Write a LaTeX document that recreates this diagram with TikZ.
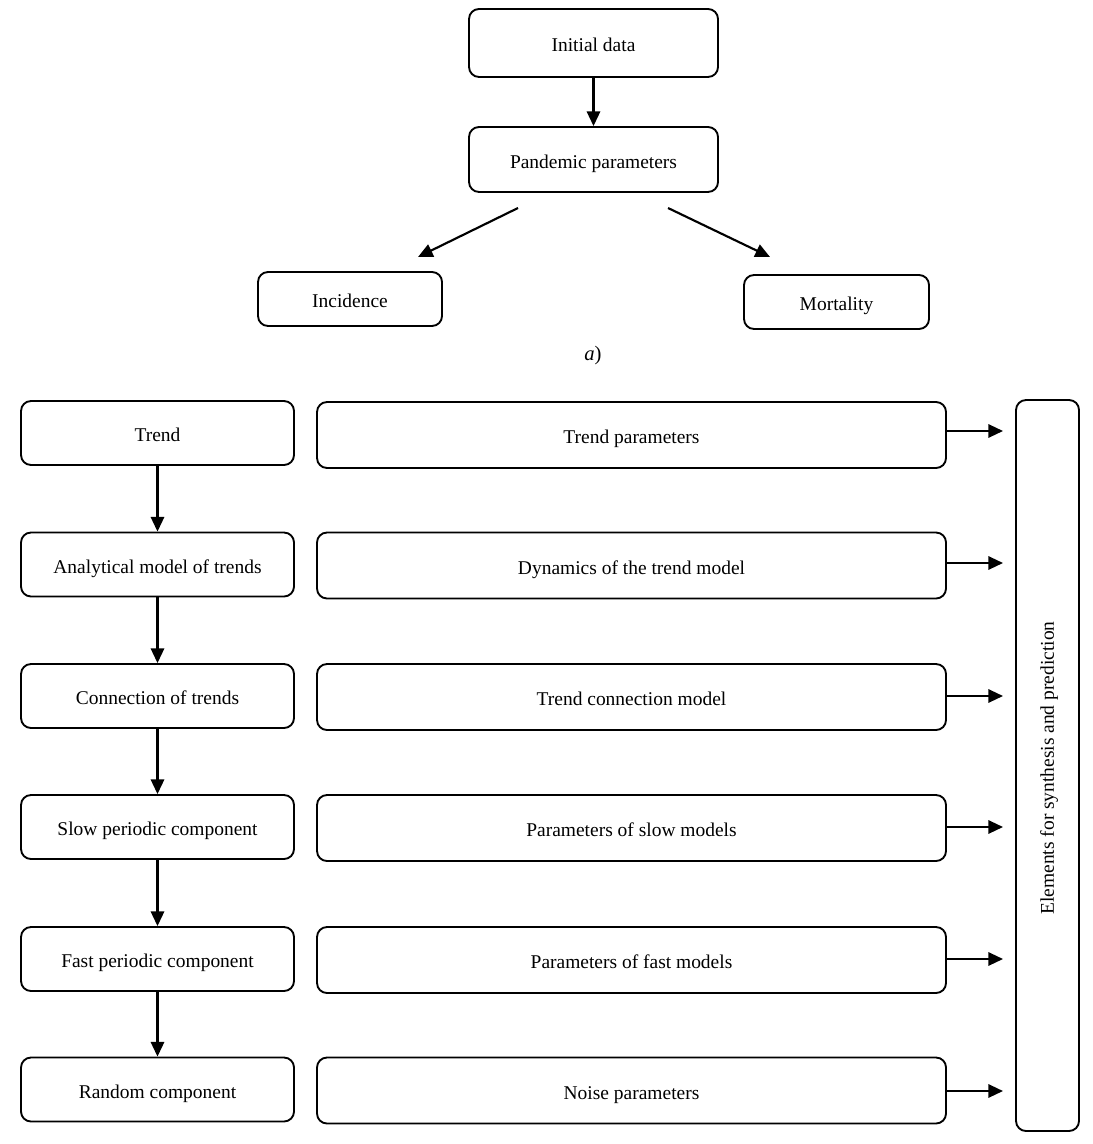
\documentclass[tikz,border=0pt]{standalone}
\usepackage{fontspec}
\setmainfont{Liberation Serif}
\usetikzlibrary{arrows.meta}
\begin{document}
\begin{tikzpicture}[x=0.75pt,y=-0.75pt,
  box/.style={draw,line width=1.4pt,rounded corners=7.5pt,inner sep=0pt,
    font=\fontsize{14.6}{17}\selectfont,align=center,text height=14pt,text depth=1pt},
  lbox/.style={box,minimum width=204.75pt,minimum height=48pt},
  mbox/.style={box,minimum width=471.75pt,minimum height=49.5pt},
  arr/.style={line width=1.6pt,-{Triangle[length=11pt,width=10pt]}}]
\useasboundingbox (0,0) rectangle (1092,1144);
% part a
\node[box,minimum width=186.75pt,minimum height=51pt] (init) at (593.5,43) {Initial data};
\node[box,minimum width=186.75pt,minimum height=48.75pt] (pand) at (593.5,159.5) {Pandemic parameters};
\node[box,minimum width=138pt,minimum height=40.5pt] (inc) at (350,299) {Incidence};
\node[box,minimum width=138.75pt,minimum height=40.5pt] (mort) at (836.5,302) {Mortality};
\draw[arr] (init) -- (pand);
\coordinate (ls) at (518,208);
\coordinate (le) at (418,257);
\coordinate (rs) at (668,208);
\coordinate (re) at (770,257);
\draw[arr] (ls) -- (le);
\draw[arr] (rs) -- (re);
\node[font=\fontsize{15.5}{18}\selectfont] (lab) at (593,356) {\textit{a})};
% part b
\node[lbox] (l1) at (157.5,433) {Trend};
\node[lbox] (l2) at (157.5,564.5) {Analytical model of trends};
\node[lbox] (l3) at (157.5,696) {Connection of trends};
\node[lbox] (l4) at (157.5,827) {Slow periodic component};
\node[lbox] (l5) at (157.5,959) {Fast periodic component};
\node[lbox] (l6) at (157.5,1089.5) {Random component};
\node[mbox] (m1) at (631.5,435) {Trend parameters};
\node[mbox] (m2) at (631.5,565.5) {Dynamics of the trend model};
\node[mbox] (m3) at (631.5,697) {Trend connection model};
\node[mbox] (m4) at (631.5,828) {Parameters of slow models};
\node[mbox] (m5) at (631.5,960) {Parameters of fast models};
\node[mbox] (m6) at (631.5,1090.5) {Noise parameters};
\node[box,minimum width=47.25pt,minimum height=548.25pt] (R) at (1047.5,765.5) {};
\node[rotate=90,font=\fontsize{14.6}{17}\selectfont] (Rt) at (1049,768) {Elements for synthesis and prediction};
\foreach \a/\b in {l1/l2,l2/l3,l3/l4,l4/l5,l5/l6}{\draw[arr] (\a) -- (\b);}
\foreach \i/\y in {1/431,2/563,3/696,4/827,5/959,6/1091}{
  \coordinate (e\i) at (1003,\y);
  \draw[arr] (m\i.east |- e\i) -- (e\i);
}
\end{tikzpicture}
\end{document}
